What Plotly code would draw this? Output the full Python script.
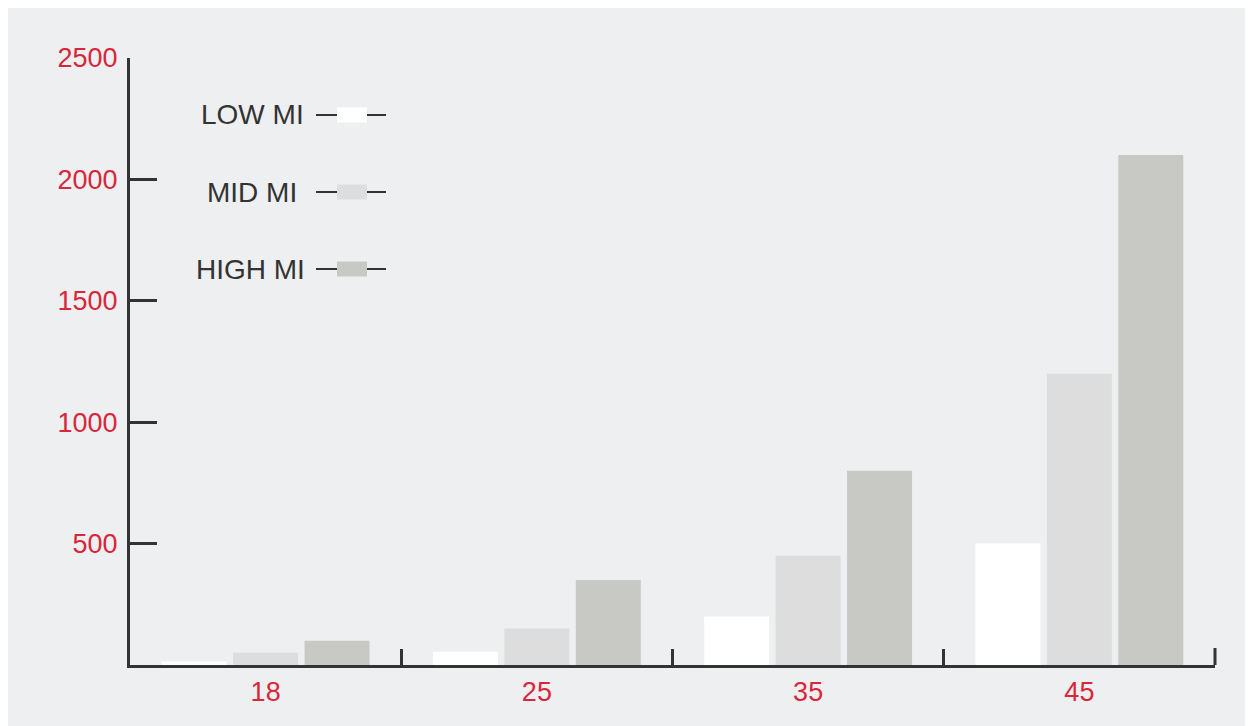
import plotly.graph_objects as go

categories = ["18", "25", "35", "45"]
series_names = ["LOW MI", "MID MI", "HIGH MI"]
low_mi = [15, 55, 200, 500]
mid_mi = [50, 150, 450, 1200]
high_mi = [100, 350, 800, 2100]
y_tick_vals = [500, 1000, 1500, 2000, 2500]
y_tick_text = ["500", "1000", "1500", "2000", "2500"]

colors = ["#ffffff", "#dcdddc", "#c8c8c5"]
# page has an 8px body margin; figure occupies page (8,8)-(1253,726)
W, H = 1245, 718
PL, PT, PR, PB = 130, 58, 1215, 665  # plot area in page pixels
ML, MT = PL - 8, PT - 8
MR, MB = 1253 - PR, 726 - PB
PW, PH = PR - PL, PB - PT

def px(x):
    return (x - PL) / PW

def py(y):
    return (PB - y) / PH

fig = go.Figure()
for name, vals, col in zip(series_names, [low_mi, mid_mi, high_mi], colors):
    fig.add_trace(go.Bar(x=categories, y=vals, name=name, marker=dict(color=col, line=dict(width=0)),
                         showlegend=False))

shapes = [
    dict(type="rect", xref="paper", yref="paper", x0=px(0), x1=px(1300), y0=py(800), y1=py(10),
         fillcolor="#eeeff1", line=dict(width=0), layer="below"),
    # closing tick at the right end of the x axis
    dict(type="line", xref="paper", yref="paper", x0=1, x1=1, y0=0, y1=py(PB - 17),
         line=dict(color="#333333", width=3)),
]
annotations = []
leg_y = [115, 192, 269]
leg_right = [304, 297, 305]
for name, col, yy, xr in zip(series_names, colors, leg_y, leg_right):
    shapes.append(dict(type="line", xref="paper", yref="paper", x0=px(316), x1=px(386), y0=py(yy), y1=py(yy),
                       line=dict(color="#333333", width=2)))
    shapes.append(dict(type="rect", xref="paper", yref="paper", x0=px(337), x1=px(367), y0=py(yy + 7.5), y1=py(yy - 7.5),
                       fillcolor=col, line=dict(width=0)))
    annotations.append(dict(text=name, xref="paper", yref="paper", x=px(xr), y=py(yy), xanchor="right",
                            yanchor="middle", showarrow=False, xshift=2,
                            font=dict(family="Liberation Sans, Arial", size=28, color="#333333")))

fig.update_layout(
    width=W, height=H,
    margin=dict(l=ML, r=MR, t=MT, b=MB, pad=0),
    paper_bgcolor="#eeeff1",
    plot_bgcolor="rgba(0,0,0,0)",
    barmode="group",
    bargap=0.21,
    bargroupgap=0.09,
    shapes=shapes,
    annotations=annotations,
    xaxis=dict(
        type="category", range=[-0.5, 3.5], showgrid=False, zeroline=False,
        showline=True, linecolor="#333333", linewidth=3,
        ticks="inside", tickson="boundaries", ticklen=16, tickwidth=2.5, tickcolor="#333333",
        tickfont=dict(family="Liberation Sans, Arial", size=27, color="#d8273a"),
        ticklabelstandoff=1,
    ),
    yaxis=dict(
        range=[0, 2500], showgrid=False, zeroline=False,
        showline=True, linecolor="#333333", linewidth=3,
        tickvals=y_tick_vals, ticktext=y_tick_text,
        ticks="inside", ticklen=27, tickwidth=3, tickcolor="#333333",
        tickfont=dict(family="Liberation Sans, Arial", size=27, color="#d8273a"),
        ticklabelstandoff=4,
    ),
)

fig.write_html("out.html")
